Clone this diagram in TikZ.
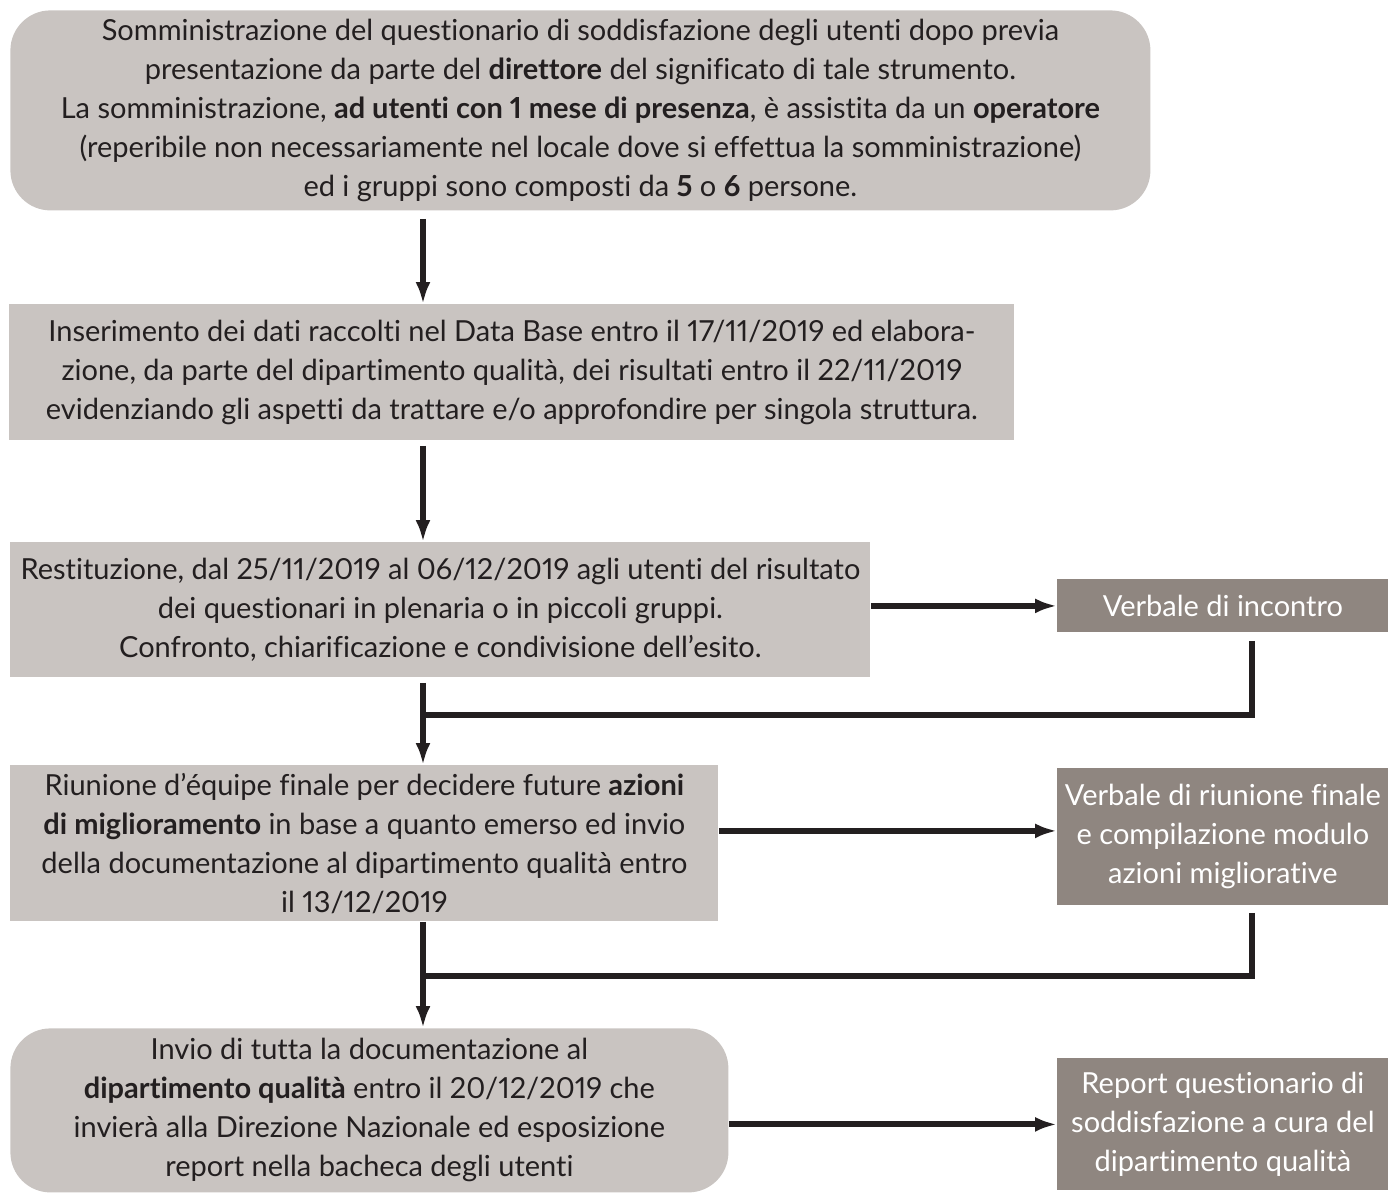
\documentclass[tikz,border=0pt]{standalone}
\usepackage{fontspec}
\setmainfont{Lato}[Ligatures=NoCommon, Numbers=Proportional]
\usetikzlibrary{arrows.meta, positioning}
\definecolor{boxgray}{HTML}{C9C4C1}
\definecolor{outgray}{HTML}{8F8680}
\definecolor{inkdark}{HTML}{231F20}

\begin{document}
\begin{tikzpicture}[
            x=0.5pt, y=-0.5pt,
            font=\fontsize{14.5}{19.5}\selectfont,
            box/.style={rectangle, fill=boxgray, text=inkdark, align=center, inner sep=0pt, anchor=north west},
            roundbox/.style={box, rounded corners=20pt},
            outbox/.style={rectangle, fill=outgray, text=white, align=center, inner sep=0pt, anchor=north west, minimum width=165.5pt},
            arrow/.style={-{Latex[length=11pt, width=7.5pt]}, line width=3pt, draw=inkdark},
            link/.style={line width=3pt, draw=inkdark}
        ]
        \useasboundingbox (0,0) rectangle (1388,1194);
    
        \node[roundbox, minimum width=570pt, minimum height=100pt] (somm) at (10,10) {Somministrazione del questionario di soddisfazione degli utenti dopo previa\\
            presentazione da parte del \textbf{direttore} del significato di tale strumento.\\
            La somministrazione, \textbf{ad utenti con 1 mese di presenza}, è assistita da un \textbf{operatore}\\
            (reperibile non necessariamente nel locale dove si effettua la somministrazione)\\
            ed i gruppi sono composti da \textbf{5} o \textbf{6} persone.};
        \node[box, minimum width=502.5pt, minimum height=68pt] (inser) at (9,304) {Inserimento dei dati raccolti nel Data Base entro il 17/11/2019 ed elabora-\\
            zione, da parte del dipartimento qualità, dei risultati entro il 22/11/2019\\
            evidenziando gli aspetti da trattare e/o approfondire per singola struttura.};
        \node[box, minimum width=430pt, minimum height=67.5pt] (restit) at (10,542) {Restituzione, dal 25/11/2019 al 06/12/2019 agli utenti del risultato\\
            dei questionari in plenaria o in piccoli gruppi.\\
            Confronto, chiarificazione e condivisione dell’esito.};
        \node[box, minimum width=354pt, minimum height=78pt] (riunione) at (10,765) {Riunione d’équipe finale per decidere future \textbf{azioni}\\
            \textbf{di miglioramento} in base a quanto emerso ed invio\\
            della documentazione al dipartimento qualità entro\\
            il 13/12/2019};
        \node[roundbox, minimum width=359pt, minimum height=82pt] (invio) at (10,1028) {Invio di tutta la documentazione al\\
            \textbf{dipartimento qualità} entro il 20/12/2019 che\\
            invierà alla Direzione Nazionale ed esposizione\\
            report nella bacheca degli utenti};
    
        \node[outbox, minimum height=26.5pt] (verb1) at (1057,579) {Verbale di incontro};
        \node[outbox, minimum height=68.5pt] (verb2) at (1057,768) {Verbale di riunione finale\\ e compilazione modulo\\ azioni migliorative};
        \node[outbox, minimum height=66pt] (report) at (1057,1058) {Report questionario di\\ soddisfazione a cura del\\ dipartimento qualità};
    
        \coordinate (spine) at (423,0);
        \coordinate (back) at (1252,0);
        \coordinate (join1) at (423,715);
        \coordinate (join2) at (423,976);
    
        \draw[arrow, shorten <=4pt] (somm.south -| spine) -- (inser.north -| spine);
        \draw[arrow, shorten <=2.5pt] (inser.south -| spine) -- (restit.north -| spine);
        \draw[arrow, shorten <=2.5pt] (restit.south -| spine) -- (riunione.north -| spine);
        \draw[arrow] (riunione.south -| spine) -- (invio.north -| spine);
    
        \draw[link, shorten <=4pt] (verb1.south -| back) |- (join1);
        \draw[link, shorten <=3.5pt] (verb2.south -| back) |- (join2);
    
        \draw[arrow] (restit.east |- verb1.west) -- (verb1.west);
        \draw[arrow] ([yshift=3pt]riunione.east |- verb2.west) -- ([yshift=3pt]verb2.west);
        \draw[arrow] (invio.east |- report.west) -- (report.west);
    
        \end{tikzpicture}
\end{document}
